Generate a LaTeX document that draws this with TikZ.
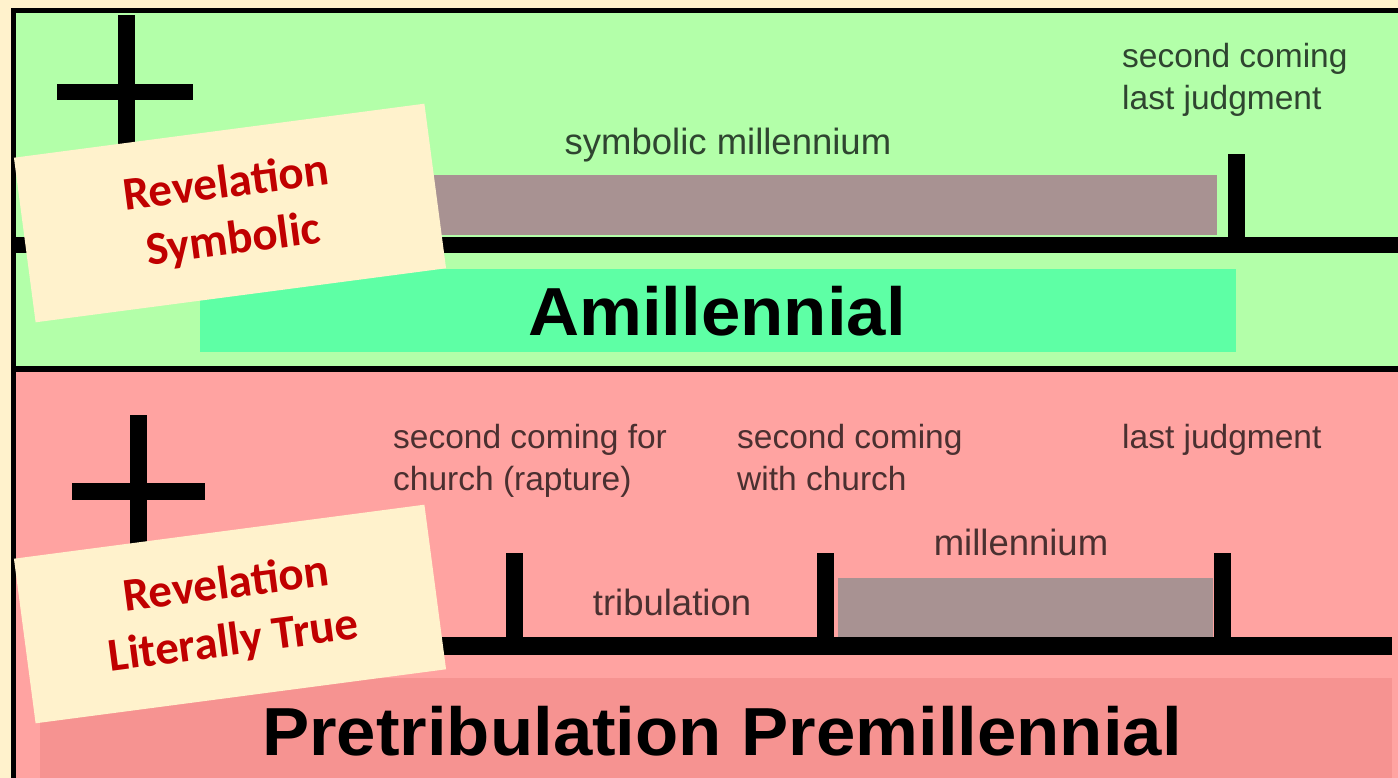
\documentclass[tikz,border=0pt]{standalone}
\usepackage{fontspec}
\setmainfont{Liberation Sans}
\setsansfont{Liberation Sans}
\newfontfamily\calfont{Carlito}
\definecolor{cream}{HTML}{FFF2CC}
\definecolor{greenbg}{HTML}{B3FFA9}
\definecolor{mint}{HTML}{5EFFA5}
\definecolor{pinkbg}{HTML}{FFA3A1}
\definecolor{pinkdark}{HTML}{F69391}
\definecolor{graybar}{HTML}{A89292}
\definecolor{labred}{HTML}{C00000}
\definecolor{gtext}{HTML}{2F4530}
\definecolor{ptext}{HTML}{4A3030}
\tikzset{
  blk/.style={fill=black, draw=none},
  small/.style={inner sep=0pt, font=\fontsize{33.5}{42}\selectfont, align=left},
  period/.style={inner sep=0pt, font=\fontsize{36.5}{42}\selectfont},
  big/.style={inner sep=0pt, xscale=1.04, font=\fontsize{68}{70}\selectfont\bfseries},
  revlabel/.style={fill=cream, draw=none, rotate=7.5, minimum width=414pt, minimum height=166pt,
    inner sep=0pt, align=center, text=labred, font=\calfont\bfseries\fontsize{47}{57}\selectfont}
}
\begin{document}
\begin{tikzpicture}[x=1pt,y=-1pt]
\useasboundingbox (0,0) rectangle (1398,778);
\fill[cream] (0,0) rectangle (1398,778);
% green panel
\fill[greenbg] (13,10) rectangle (1398,369);
\fill[black] (11,8) rectangle (1398,13);
\fill[black] (11,8) rectangle (16,372);
\fill[black] (11,366) rectangle (1398,372);
% pink panel
\fill[pinkbg] (16,372) rectangle (1398,778);
\fill[black] (11,366) rectangle (16,778);
% upper cross
\fill[black] (118,15) rectangle (135,170);
\fill[black] (57,84) rectangle (193,100);
% upper timeline
\fill[graybar] (300,175) rectangle (1217,235);
\fill[black] (16,237) rectangle (1398,253);
\fill[black] (1228,154) rectangle (1245,253);
\node[period, text=gtext, anchor=base] (symb) at (728,155) {symbolic millennium};
\node[small, text=gtext, anchor=base west] (sc1) at (1122,110) {second coming\\last judgment};
% amillennial
\fill[mint] (200,269) rectangle (1236,352);
\node[big, anchor=base] (amil) at (717,335) {Amillennial};
% lower cross
\fill[black] (130,415) rectangle (147,560);
\fill[black] (72,483) rectangle (205,500);
% lower timeline
\fill[graybar] (838,578) rectangle (1213,637);
\fill[black] (300,637) rectangle (1392,655);
\fill[black] (506,553) rectangle (523,655);
\fill[black] (817,553) rectangle (834,655);
\fill[black] (1214,553) rectangle (1231,655);
\node[small, text=ptext, anchor=base west] (rap) at (393,490) {second coming for\\church (rapture)};
\node[small, text=ptext, anchor=base west] (with) at (737,490) {second coming\\with church};
\node[small, text=ptext, anchor=base west] (lj) at (1122,448) {last judgment};
\node[period, text=ptext, anchor=base] (mil) at (1021,555) {millennium};
\node[period, text=ptext, anchor=base] (trib) at (672,615) {tribulation};
% pretrib
\fill[pinkdark] (40,678) rectangle (1392,778);
\node[big, anchor=base] (pre) at (722,755) {Pretribulation Premillennial};
% labels
\node[revlabel] (lab1) at (230,213) {Revelation\\Symbolic};
\node[revlabel] (lab2) at (230,614) {Revelation\\Literally True};
\end{tikzpicture}
\end{document}
